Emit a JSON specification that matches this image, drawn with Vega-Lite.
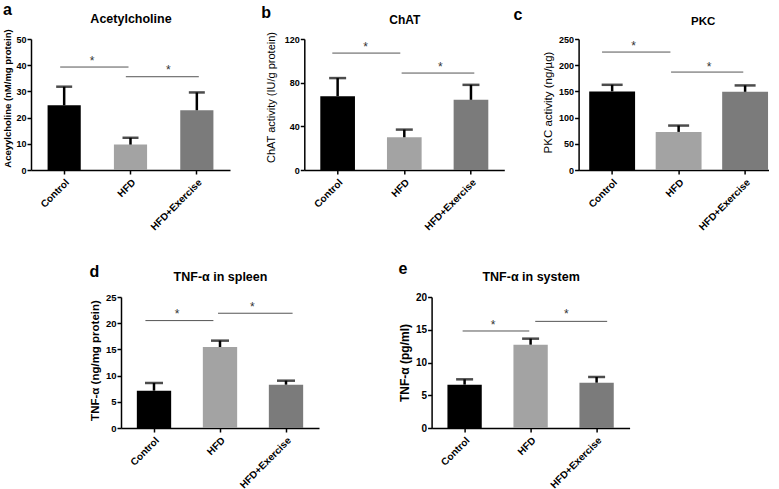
{
  "$schema": "https://vega.github.io/schema/vega-lite/v6.json",
  "background": "white",
  "padding": {"left": 2, "top": 2, "right": 0, "bottom": 0},
  "datasets": {
    "a_bars": [
      {"group": "Control", "mean": 24.7, "upper": 31.8},
      {"group": "HFD", "mean": 9.7, "upper": 12.3},
      {"group": "HFD+Exercise", "mean": 22.8, "upper": 29.6}
    ],
    "a_sig": [
      {"x1": 0.44, "x2": 1.47, "y": 39.3, "sx": 0.92, "sy": 42.7},
      {"x1": 1.43, "x2": 2.53, "y": 35.6, "sx": 2.07, "sy": 39.3}
    ],
    "b_bars": [
      {"group": "Control", "mean": 67.6, "upper": 84.2},
      {"group": "HFD", "mean": 30.0, "upper": 37.0},
      {"group": "HFD+Exercise", "mean": 64.3, "upper": 78.0}
    ],
    "b_sig": [
      {"x1": 0.42, "x2": 1.44, "y": 107.1, "sx": 0.92, "sy": 115.7},
      {"x1": 1.46, "x2": 2.55, "y": 88.8, "sx": 2.04, "sy": 97.0}
    ],
    "c_bars": [
      {"group": "Control", "mean": 150.0, "upper": 162.6},
      {"group": "HFD", "mean": 72.7, "upper": 84.8},
      {"group": "HFD+Exercise", "mean": 149.2, "upper": 161.4}
    ],
    "c_sig": [
      {"x1": 0.37, "x2": 1.45, "y": 225.1, "sx": 0.87, "sy": 242.3},
      {"x1": 1.46, "x2": 2.6, "y": 186.9, "sx": 2.06, "sy": 202.2}
    ],
    "d_bars": [
      {"group": "Control", "mean": 7.12, "upper": 8.59},
      {"group": "HFD", "mean": 15.46, "upper": 16.67},
      {"group": "HFD+Exercise", "mean": 8.27, "upper": 9.03}
    ],
    "d_sig": [
      {"x1": 0.37, "x2": 1.4, "y": 20.5, "sx": 0.85, "sy": 22.3},
      {"x1": 1.47, "x2": 2.6, "y": 21.9, "sx": 1.99, "sy": 23.7}
    ],
    "e_bars": [
      {"group": "Control", "mean": 6.62, "upper": 7.43},
      {"group": "HFD", "mean": 12.72, "upper": 13.64},
      {"group": "HFD+Exercise", "mean": 6.92, "upper": 7.79}
    ],
    "e_sig": [
      {"x1": 0.47, "x2": 1.48, "y": 14.81, "sx": 0.93, "sy": 16.2},
      {"x1": 1.57, "x2": 2.66, "y": 16.28, "sx": 2.04, "sy": 17.9}
    ]
  },
  "spacing": 29,
  "vconcat": [
    {
      "hconcat": [
        {
          "title": {"text": "a", "anchor": "start", "frame": "bounds", "fontSize": 16, "fontWeight": "bold", "offset": -6},
          "width": 199, "height": 131,
          "layer": [
            {
              "data": {"name": "a_bars"},
              "layer": [
                {"mark": {"type": "bar"},
                 "encoding": {
                   "x": {"field": "group", "type": "nominal", "title": null, "scale": {"paddingInner": 0.5, "paddingOuter": 0.25}, "axis": {"labelAngle": -45, "labelFontSize": 10, "labelPadding": 3}},
                   "y": {"field": "mean", "type": "quantitative", "scale": {"domain": [0, 50], "nice": false}, "axis": {"values": [0, 10, 20, 30, 40, 50], "labelOverlap": false, "title": "Aceyylcholine  (nM/mg protein)", "titleFontSize": 9.5, "titleFontWeight": "bold", "labelFontSize": 9, "titlePadding": 3, "titleY": 59}},
                   "color": {"field": "group", "type": "nominal", "scale": {"domain": ["Control", "HFD", "HFD+Exercise"], "range": ["#000000", "#a3a3a3", "#7b7b7b"]}, "legend": null}
                 }},
                {"mark": {"type": "rule", "color": "#000", "strokeWidth": 2.5},
                 "encoding": {"x": {"field": "group", "type": "nominal", "title": null}, "y": {"field": "mean", "type": "quantitative", "axis": {"values": [0, 10, 20, 30, 40, 50], "labelOverlap": false, "title": "Aceyylcholine  (nM/mg protein)"}}, "y2": {"field": "upper"}}},
                {"mark": {"type": "tick", "color": "#000", "thickness": 2.5, "size": 16},
                 "encoding": {"x": {"field": "group", "type": "nominal", "title": null}, "y": {"field": "upper", "type": "quantitative", "axis": {"values": [0, 10, 20, 30, 40, 50], "labelOverlap": false, "title": "Aceyylcholine  (nM/mg protein)"}}}}
              ]
            },
            {
              "data": {"name": "a_sig"},
              "layer": [
                {"mark": {"type": "rule", "color": "#555", "strokeWidth": 1},
                 "encoding": {
                   "x": {"field": "x1", "type": "quantitative", "scale": {"domain": [0, 3], "nice": false, "zero": false}, "axis": {"orient": "top", "title": "Acetylcholine", "labels": false, "ticks": false, "domain": false, "grid": false, "titleFontSize": 12.5, "titleFontWeight": "bold", "titlePadding": 14}},
                   "x2": {"field": "x2"},
                   "y": {"field": "y", "type": "quantitative", "axis": {"values": [0, 10, 20, 30, 40, 50], "labelOverlap": false, "title": "Aceyylcholine  (nM/mg protein)"}}}},
                {"mark": {"type": "text", "text": "*", "fontSize": 12, "color": "#333", "baseline": "middle", "dy": 3},
                 "encoding": {"x": {"field": "sx", "type": "quantitative", "title": "Acetylcholine"}, "y": {"field": "sy", "type": "quantitative", "axis": {"values": [0, 10, 20, 30, 40, 50], "labelOverlap": false, "title": "Aceyylcholine  (nM/mg protein)"}}}}
              ]
            }
          ],
          "resolve": {"scale": {"x": "independent"}}
        },
        {
          "title": {"text": "b", "anchor": "start", "frame": "bounds", "fontSize": 16, "fontWeight": "bold", "offset": -8, "dx": -4},
          "width": 200, "height": 131,
          "layer": [
            {
              "data": {"name": "b_bars"},
              "layer": [
                {"mark": {"type": "bar"},
                 "encoding": {
                   "x": {"field": "group", "type": "nominal", "title": null, "scale": {"paddingInner": 0.48, "paddingOuter": 0.24}, "axis": {"labelAngle": -45, "labelFontSize": 10, "labelPadding": 3}},
                   "y": {"field": "mean", "type": "quantitative", "scale": {"domain": [0, 120], "nice": false}, "axis": {"values": [0, 40, 80, 120], "labelOverlap": false, "title": "ChAT activity (IU/g protein)", "titleFontSize": 11, "titleFontWeight": "normal", "labelFontSize": 9, "titlePadding": 8, "titleY": 58}},
                   "color": {"field": "group", "type": "nominal", "scale": {"domain": ["Control", "HFD", "HFD+Exercise"], "range": ["#000000", "#a3a3a3", "#7b7b7b"]}, "legend": null}
                 }},
                {"mark": {"type": "rule", "color": "#000", "strokeWidth": 2.5},
                 "encoding": {"x": {"field": "group", "type": "nominal", "title": null}, "y": {"field": "mean", "type": "quantitative", "axis": {"values": [0, 40, 80, 120], "labelOverlap": false, "title": "ChAT activity (IU/g protein)"}}, "y2": {"field": "upper"}}},
                {"mark": {"type": "tick", "color": "#000", "thickness": 2.5, "size": 17},
                 "encoding": {"x": {"field": "group", "type": "nominal", "title": null}, "y": {"field": "upper", "type": "quantitative", "axis": {"values": [0, 40, 80, 120], "labelOverlap": false, "title": "ChAT activity (IU/g protein)"}}}}
              ]
            },
            {
              "data": {"name": "b_sig"},
              "layer": [
                {"mark": {"type": "rule", "color": "#555", "strokeWidth": 1},
                 "encoding": {
                   "x": {"field": "x1", "type": "quantitative", "scale": {"domain": [0, 3], "nice": false, "zero": false}, "axis": {"orient": "top", "title": "ChAT", "labels": false, "ticks": false, "domain": false, "grid": false, "titleFontSize": 12, "titleFontWeight": "bold", "titlePadding": 13}},
                   "x2": {"field": "x2"},
                   "y": {"field": "y", "type": "quantitative", "axis": {"values": [0, 40, 80, 120], "labelOverlap": false, "title": "ChAT activity (IU/g protein)"}}}},
                {"mark": {"type": "text", "text": "*", "fontSize": 12, "color": "#333", "baseline": "middle", "dy": 3},
                 "encoding": {"x": {"field": "sx", "type": "quantitative", "title": "ChAT"}, "y": {"field": "sy", "type": "quantitative", "axis": {"values": [0, 40, 80, 120], "labelOverlap": false, "title": "ChAT activity (IU/g protein)"}}}}
              ]
            }
          ],
          "resolve": {"scale": {"x": "independent"}}
        },
        {
          "title": {"text": "c", "anchor": "start", "frame": "bounds", "fontSize": 16, "fontWeight": "bold", "offset": -8, "dx": -29},
          "width": 190, "height": 131,
          "layer": [
            {
              "data": {"name": "c_bars"},
              "layer": [
                {"mark": {"type": "bar"},
                 "encoding": {
                   "x": {"field": "group", "type": "nominal", "title": null, "scale": {"paddingInner": 0.31, "paddingOuter": 0.084, "align": 0.95}, "axis": {"labelAngle": -45, "labelFontSize": 10, "labelPadding": 3}},
                   "y": {"field": "mean", "type": "quantitative", "scale": {"domain": [0, 250], "nice": false}, "axis": {"values": [0, 50, 100, 150, 200, 250], "labelOverlap": false, "title": "PKC activity  (ng/µg)", "titleFontSize": 11.5, "titleFontWeight": "normal", "labelFontSize": 9, "titlePadding": 5, "titleY": 63}},
                   "color": {"field": "group", "type": "nominal", "scale": {"domain": ["Control", "HFD", "HFD+Exercise"], "range": ["#000000", "#a3a3a3", "#7b7b7b"]}, "legend": null}
                 }},
                {"mark": {"type": "rule", "color": "#000", "strokeWidth": 2.5},
                 "encoding": {"x": {"field": "group", "type": "nominal", "title": null}, "y": {"field": "mean", "type": "quantitative", "axis": {"values": [0, 50, 100, 150, 200, 250], "labelOverlap": false, "title": "PKC activity  (ng/µg)"}}, "y2": {"field": "upper"}}},
                {"mark": {"type": "tick", "color": "#000", "thickness": 2.5, "size": 21},
                 "encoding": {"x": {"field": "group", "type": "nominal", "title": null}, "y": {"field": "upper", "type": "quantitative", "axis": {"values": [0, 50, 100, 150, 200, 250], "labelOverlap": false, "title": "PKC activity  (ng/µg)"}}}}
              ]
            },
            {
              "data": {"name": "c_sig"},
              "layer": [
                {"mark": {"type": "rule", "color": "#555", "strokeWidth": 1},
                 "encoding": {
                   "x": {"field": "x1", "type": "quantitative", "scale": {"domain": [0, 3], "nice": false, "zero": false}, "axis": {"orient": "top", "title": "PKC", "labels": false, "ticks": false, "domain": false, "grid": false, "titleFontSize": 11.5, "titleFontWeight": "bold", "titlePadding": 13, "titleX": 124}},
                   "x2": {"field": "x2"},
                   "y": {"field": "y", "type": "quantitative", "axis": {"values": [0, 50, 100, 150, 200, 250], "labelOverlap": false, "title": "PKC activity  (ng/µg)"}}}},
                {"mark": {"type": "text", "text": "*", "fontSize": 12, "color": "#333", "baseline": "middle", "dy": 3},
                 "encoding": {"x": {"field": "sx", "type": "quantitative", "title": "PKC"}, "y": {"field": "sy", "type": "quantitative", "axis": {"values": [0, 50, 100, 150, 200, 250], "labelOverlap": false, "title": "PKC activity  (ng/µg)"}}}}
              ]
            }
          ],
          "resolve": {"scale": {"x": "independent"}}
        }
      ],
      "spacing": 74.3,
      "bounds": "flush"
    },
    {
      "hconcat": [
        {"width": 1, "height": 131, "data": {"values": [{"v": 0}]}, "mark": {"type": "point", "opacity": 0}, "encoding": {}},
        {
          "hconcat": [
            {
              "title": {"text": "d", "anchor": "start", "frame": "bounds", "fontSize": 16, "fontWeight": "bold", "offset": -10},
              "width": 198, "height": 131,
              "layer": [
                {
                  "data": {"name": "d_bars"},
                  "layer": [
                    {"mark": {"type": "bar"},
                     "encoding": {
                       "x": {"field": "group", "type": "nominal", "title": null, "scale": {"paddingInner": 0.48, "paddingOuter": 0.24}, "axis": {"labelAngle": -45, "labelFontSize": 10, "labelPadding": 3}},
                       "y": {"field": "mean", "type": "quantitative", "scale": {"domain": [0, 25], "nice": false}, "axis": {"values": [0, 5, 10, 15, 20, 25], "labelOverlap": false, "title": "TNF-α (ng/mg protein)", "titleFontSize": 11.5, "titleFontWeight": "bold", "labelFontSize": 9.5, "titlePadding": 5, "titleY": 63}},
                       "color": {"field": "group", "type": "nominal", "scale": {"domain": ["Control", "HFD", "HFD+Exercise"], "range": ["#000000", "#a3a3a3", "#7b7b7b"]}, "legend": null}
                     }},
                    {"mark": {"type": "rule", "color": "#000", "strokeWidth": 2.5},
                     "encoding": {"x": {"field": "group", "type": "nominal", "title": null}, "y": {"field": "mean", "type": "quantitative", "axis": {"values": [0, 5, 10, 15, 20, 25], "labelOverlap": false, "title": "TNF-α (ng/mg protein)"}}, "y2": {"field": "upper"}}},
                    {"mark": {"type": "tick", "color": "#000", "thickness": 2.5, "size": 18},
                     "encoding": {"x": {"field": "group", "type": "nominal", "title": null}, "y": {"field": "upper", "type": "quantitative", "axis": {"values": [0, 5, 10, 15, 20, 25], "labelOverlap": false, "title": "TNF-α (ng/mg protein)"}}}}
                  ]
                },
                {
                  "data": {"name": "d_sig"},
                  "layer": [
                    {"mark": {"type": "rule", "color": "#555", "strokeWidth": 1},
                     "encoding": {
                       "x": {"field": "x1", "type": "quantitative", "scale": {"domain": [0, 3], "nice": false, "zero": false}, "axis": {"orient": "top", "title": "TNF-α in spleen", "labels": false, "ticks": false, "domain": false, "grid": false, "titleFontSize": 12.5, "titleFontWeight": "bold", "titlePadding": 14}},
                       "x2": {"field": "x2"},
                       "y": {"field": "y", "type": "quantitative", "axis": {"values": [0, 5, 10, 15, 20, 25], "labelOverlap": false, "title": "TNF-α (ng/mg protein)"}}}},
                    {"mark": {"type": "text", "text": "*", "fontSize": 12, "color": "#333", "baseline": "middle", "dy": 3},
                     "encoding": {"x": {"field": "sx", "type": "quantitative", "title": "TNF-α in spleen"}, "y": {"field": "sy", "type": "quantitative", "axis": {"values": [0, 5, 10, 15, 20, 25], "labelOverlap": false, "title": "TNF-α (ng/mg protein)"}}}}
                  ]
                }
              ],
              "resolve": {"scale": {"x": "independent"}}
            },
            {
              "title": {"text": "e", "anchor": "start", "frame": "bounds", "fontSize": 16, "fontWeight": "bold", "offset": -7},
              "width": 198, "height": 131,
              "layer": [
                {
                  "data": {"name": "e_bars"},
                  "layer": [
                    {"mark": {"type": "bar"},
                     "encoding": {
                       "x": {"field": "group", "type": "nominal", "title": null, "scale": {"paddingInner": 0.48, "paddingOuter": 0.24}, "axis": {"labelAngle": -45, "labelFontSize": 10, "labelPadding": 3}},
                       "y": {"field": "mean", "type": "quantitative", "scale": {"domain": [0, 20], "nice": false}, "axis": {"values": [0, 5, 10, 15, 20], "labelOverlap": false, "title": "TNF-α (pg/ml)", "titleFontSize": 12, "titleFontWeight": "bold", "labelFontSize": 10, "titlePadding": 4}},
                       "color": {"field": "group", "type": "nominal", "scale": {"domain": ["Control", "HFD", "HFD+Exercise"], "range": ["#000000", "#a3a3a3", "#7b7b7b"]}, "legend": null}
                     }},
                    {"mark": {"type": "rule", "color": "#000", "strokeWidth": 2.5},
                     "encoding": {"x": {"field": "group", "type": "nominal", "title": null}, "y": {"field": "mean", "type": "quantitative", "axis": {"values": [0, 5, 10, 15, 20], "labelOverlap": false, "title": "TNF-α (pg/ml)"}}, "y2": {"field": "upper"}}},
                    {"mark": {"type": "tick", "color": "#000", "thickness": 2.5, "size": 17},
                     "encoding": {"x": {"field": "group", "type": "nominal", "title": null}, "y": {"field": "upper", "type": "quantitative", "axis": {"values": [0, 5, 10, 15, 20], "labelOverlap": false, "title": "TNF-α (pg/ml)"}}}}
                  ]
                },
                {
                  "data": {"name": "e_sig"},
                  "layer": [
                    {"mark": {"type": "rule", "color": "#555", "strokeWidth": 1},
                     "encoding": {
                       "x": {"field": "x1", "type": "quantitative", "scale": {"domain": [0, 3], "nice": false, "zero": false}, "axis": {"orient": "top", "title": "TNF-α in system", "labels": false, "ticks": false, "domain": false, "grid": false, "titleFontSize": 12.5, "titleFontWeight": "bold", "titlePadding": 14}},
                       "x2": {"field": "x2"},
                       "y": {"field": "y", "type": "quantitative", "axis": {"values": [0, 5, 10, 15, 20], "labelOverlap": false, "title": "TNF-α (pg/ml)"}}}},
                    {"mark": {"type": "text", "text": "*", "fontSize": 12, "color": "#333", "baseline": "middle", "dy": 3},
                     "encoding": {"x": {"field": "sx", "type": "quantitative", "title": "TNF-α in system"}, "y": {"field": "sy", "type": "quantitative", "axis": {"values": [0, 5, 10, 15, 20], "labelOverlap": false, "title": "TNF-α (pg/ml)"}}}}
                  ]
                }
              ],
              "resolve": {"scale": {"x": "independent"}}
            }
          ],
          "spacing": 112.6,
          "bounds": "flush"
        }
      ],
      "spacing": 89,
      "bounds": "flush"
    }
  ],
  "config": {
    "view": {"stroke": null},
    "font": "Liberation Sans",
    "axis": {"domainColor": "#000", "domainWidth": 1.5, "tickColor": "#000", "tickWidth": 1.5, "tickSize": 4, "labelColor": "#000", "labelFontWeight": "bold", "titleColor": "#000", "grid": false, "labelPadding": 1, "labelOverlap": false},
    "title": {"color": "#000", "font": "Liberation Sans"}
  }
}
